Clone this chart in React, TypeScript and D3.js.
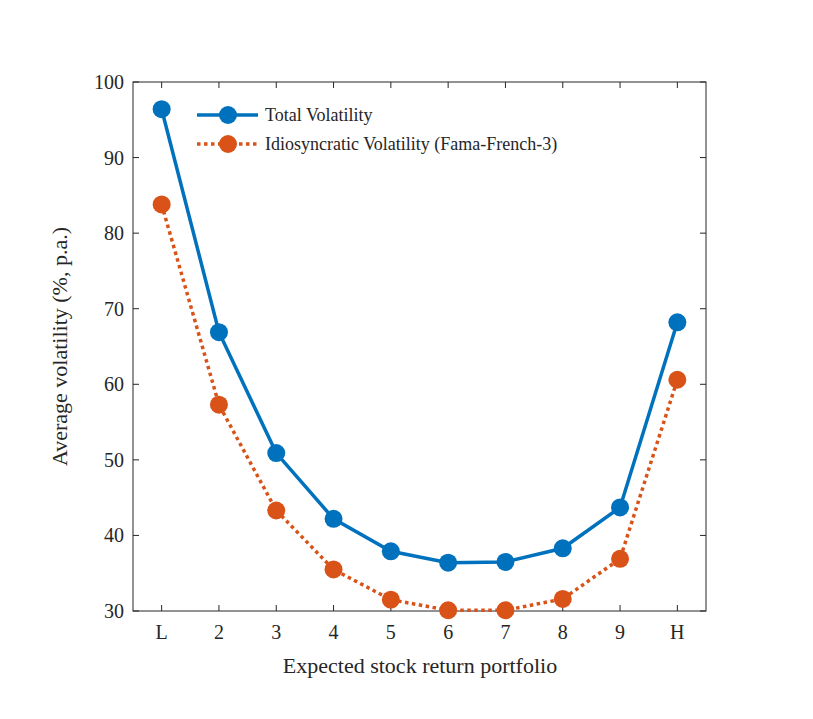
import React from "react";
import * as d3 from "d3";

const categories = ["L", "2", "3", "4", "5", "6", "7", "8", "9", "H"];
const totalVol = [96.4, 66.9, 50.9, 42.2, 37.9, 36.4, 36.5, 38.3, 43.7, 68.2];
const idioVol = [83.8, 57.3, 43.3, 35.5, 31.5, 30.1, 30.1, 31.6, 36.9, 60.6];
const yTicks = [30, 40, 50, 60, 70, 80, 90, 100];

const W = 813, H = 719;
const L = 133, R = 706, T = 82, B = 611;
const font = "'Liberation Serif', 'DejaVu Serif', serif";

export default function App() {
  const x = d3.scaleLinear().domain([0.5, 10.5]).range([L, R]);
  const y = d3.scaleLinear().domain([30, 100]).range([B, T]);
  const line = d3.line<number>().x((_, i) => x(i + 1)).y((d) => y(d));
  const tk = 6;
  return (
    <svg width={W} height={H} style={{ position: "absolute", left: 0, top: 0, background: "#fff" }} fontFamily={font}>
      <rect x={L} y={T} width={R - L} height={B - T} fill="#fff" stroke="#262626" strokeWidth={1} />
      {yTicks.map((t) => (
        <g key={t}>
          <line x1={L} x2={L + tk} y1={y(t)} y2={y(t)} stroke="#262626" />
          <line x1={R} x2={R - tk} y1={y(t)} y2={y(t)} stroke="#262626" />
          <text x={L - 9} y={y(t)} dy="0.35em" textAnchor="end" fontSize={20} fill="#262626">{t}</text>
        </g>
      ))}
      {categories.map((c, i) => (
        <g key={c}>
          <line x1={x(i + 1)} x2={x(i + 1)} y1={B} y2={B - tk} stroke="#262626" />
          <line x1={x(i + 1)} x2={x(i + 1)} y1={T} y2={T + tk} stroke="#262626" />
          <text x={x(i + 1)} y={B + 28} textAnchor="middle" fontSize={20} fill="#262626">{c}</text>
        </g>
      ))}
      <text x={420} y={673} textAnchor="middle" fontSize={22} fill="#262626">Expected stock return portfolio</text>
      <text transform={`translate(67,${(T + B) / 2}) rotate(-90)`} textAnchor="middle" fontSize={22} fill="#262626">Average volatility (%, p.a.)</text>
      <path d={line(totalVol) || ""} fill="none" stroke="#0072BD" strokeWidth={3.5} />
      <path d={line(idioVol) || ""} fill="none" stroke="#D95319" strokeWidth={3.5} strokeDasharray="3.5 3.5" />
      {totalVol.map((v, i) => <circle key={"t" + i} cx={x(i + 1)} cy={y(v)} r={9} fill="#0072BD" />)}
      {idioVol.map((v, i) => <circle key={"d" + i} cx={x(i + 1)} cy={y(v)} r={9} fill="#D95319" />)}
      <g>
        <line x1={197} x2={258} y1={115} y2={115} stroke="#0072BD" strokeWidth={3.5} />
        <circle cx={228} cy={115} r={9} fill="#0072BD" />
        <text x={265} y={115} dy="0.35em" fontSize={18} fill="#262626">Total Volatility</text>
        <line x1={197} x2={258} y1={144} y2={144} stroke="#D95319" strokeWidth={3.5} strokeDasharray="3.5 3.5" />
        <circle cx={228} cy={144} r={9} fill="#D95319" />
        <text x={265} y={144} dy="0.35em" fontSize={18} fill="#262626">Idiosyncratic Volatility (Fama-French-3)</text>
      </g>
    </svg>
  );
}
